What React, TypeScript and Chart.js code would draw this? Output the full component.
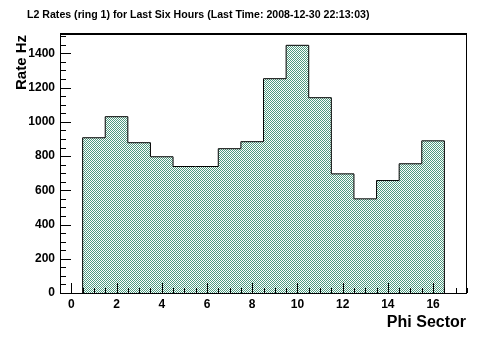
import React, { useEffect, useRef } from "react";
import { Chart, registerables } from "chart.js";

Chart.register(...registerables);

const chartTitle = "L2 Rates (ring 1) for Last Six Hours (Last Time: 2008-12-30 22:13:03)";
const xAxisTitle = "Phi Sector";
const yAxisTitle = "Rate Hz";

const phiSectors = [1, 2, 3, 4, 5, 6, 7, 8, 9, 10, 11, 12, 13, 14, 15, 16];
const rates = [907, 1030, 878, 796, 739, 739, 843, 884, 1252, 1447, 1141, 696, 550, 657, 755, 889];

const xMajorTicks = [0, 2, 4, 6, 8, 10, 12, 14, 16];
const xMinorTicks = [-0.5, 0, 0.5, 1, 1.5, 2, 2.5, 3, 3.5, 4, 4.5, 5, 5.5, 6, 6.5, 7, 7.5, 8, 8.5, 9, 9.5, 10, 10.5, 11, 11.5, 12, 12.5, 13, 13.5, 14, 14.5, 15, 15.5, 16, 16.5, 17, 17.5];
const yMajorTicks = [0, 200, 400, 600, 800, 1000, 1200, 1400];
const yMinorTicks = [0, 50, 100, 150, 200, 250, 300, 350, 400, 450, 500, 550, 600, 650, 700, 750, 800, 850, 900, 950, 1000, 1050, 1100, 1150, 1200, 1250, 1300, 1350, 1400, 1450, 1500];

const X_MIN = -0.5;
const X_MAX = 17.5;
const Y_MIN = 0;
const Y_MAX = 1519;

const FONT = "'Liberation Sans', Arial, Helvetica, sans-serif";

function makePattern(): CanvasPattern | string {
  const c = document.createElement("canvas");
  c.width = 2;
  c.height = 2;
  const g = c.getContext("2d");
  if (!g) return "#a8c8bc";
  g.fillStyle = "#ffffff";
  g.fillRect(0, 0, 2, 2);
  g.fillStyle = "#4f9a80";
  g.fillRect(0, 0, 1, 1);
  g.fillRect(1, 1, 1, 1);
  const p = g.createPattern(c, "repeat");
  return p || "#a8c8bc";
}

const rootStylePlugin = {
  id: "rootStyle",
  afterDatasetsDraw(chart: any) {
    const ctx: CanvasRenderingContext2D = chart.ctx;
    const { left, right, top, bottom } = chart.chartArea;
    const xs = chart.scales.x;
    const ys = chart.scales.y;
    ctx.save();
    ctx.strokeStyle = "#000";
    ctx.lineWidth = 1;
    // frame
    ctx.beginPath();
    ctx.moveTo(left + 0.5, bottom + 0.5);
    ctx.lineTo(left + 0.5, top);
    ctx.moveTo(right - 0.5, top);
    ctx.lineTo(right - 0.5, bottom + 0.5);
    ctx.moveTo(left, bottom + 0.5);
    ctx.lineTo(right, bottom + 0.5);
    ctx.stroke();
    ctx.lineWidth = 2;
    ctx.beginPath();
    ctx.moveTo(left, top + 1);
    ctx.lineTo(right, top + 1);
    ctx.stroke();
    // ticks
    ctx.lineWidth = 1;
    ctx.beginPath();
    xMinorTicks.forEach((v) => {
      const px = Math.round(xs.getPixelForValue(v)) + 0.5;
      const len = xMajorTicks.includes(v) ? 10 : 5;
      ctx.moveTo(px, bottom);
      ctx.lineTo(px, bottom - len);
    });
    yMinorTicks.forEach((v) => {
      const py = Math.round(ys.getPixelForValue(v)) + 0.5;
      const len = yMajorTicks.includes(v) ? 11 : 6;
      ctx.moveTo(left, py);
      ctx.lineTo(left + len, py);
    });
    ctx.stroke();
    // texts
    ctx.fillStyle = "#000";
    ctx.font = `bold 10.6px ${FONT}`;
    ctx.textAlign = "left";
    ctx.textBaseline = "alphabetic";
    ctx.fillText(chartTitle, 27, 17.5);
    ctx.font = `bold 16px ${FONT}`;
    ctx.textAlign = "right";
    ctx.fillText(xAxisTitle, right - 1, 327);
    ctx.save();
    ctx.translate(26, top + 2);
    ctx.rotate(-Math.PI / 2);
    ctx.textAlign = "right";
    ctx.font = `bold 15px ${FONT}`;
    ctx.fillText(yAxisTitle, 0, 0);
    ctx.restore();
    ctx.restore();
  },
};

export default function App() {
  const canvasRef = useRef<HTMLCanvasElement | null>(null);

  useEffect(() => {
    document.body.style.margin = "0";
    const canvas = canvasRef.current;
    if (!canvas) return;
    const histPoints: { x: number; y: number }[] = [{ x: phiSectors[0] - 0.5, y: 0 }];
    phiSectors.forEach((s, i) => histPoints.push({ x: s - 0.5, y: rates[i] }));
    histPoints.push({ x: phiSectors[phiSectors.length - 1] + 0.5, y: 0 });

    const chart = new Chart(canvas, {
      type: "line",
      data: {
        datasets: [
          {
            data: histPoints,
            stepped: "before",
            borderColor: "#000",
            borderWidth: 1,
            backgroundColor: makePattern() as any,
            fill: "origin",
            pointRadius: 0,
            tension: 0,
          } as any,
        ],
      },
      options: {
        responsive: false,
        animation: false,
        devicePixelRatio: 1,
        layout: { padding: { left: 0, right: 25, top: 33, bottom: 0 } },
        plugins: { legend: { display: false }, title: { display: false }, tooltip: { enabled: false } },
        scales: {
          x: {
            type: "linear",
            min: X_MIN,
            max: X_MAX,
            grid: { display: false, drawTicks: false },
            border: { display: false },
            afterBuildTicks: (scale: any) => {
              scale.ticks = xMajorTicks.map((value) => ({ value }));
            },
            afterFit: (scale: any) => {
              scale.height = 51;
            },
            ticks: {
              padding: 4,
              maxRotation: 0,
              autoSkip: false,
              color: "#000",
              callback: (v: any) => String(v),
              font: { family: FONT, size: 12, weight: "bold" },
            },
          },
          y: {
            type: "linear",
            min: Y_MIN,
            max: Y_MAX,
            grid: { display: false, drawTicks: false },
            border: { display: false },
            afterBuildTicks: (scale: any) => {
              scale.ticks = yMajorTicks.map((value) => ({ value }));
            },
            afterFit: (scale: any) => {
              scale.width = 60;
            },
            ticks: {
              padding: 5,
              autoSkip: false,
              color: "#000",
              callback: (v: any) => String(v),
              font: { family: FONT, size: 12, weight: "bold" },
            },
          },
        },
      },
      plugins: [rootStylePlugin],
    });
    return () => chart.destroy();
  }, []);

  return (
    <div style={{ position: "absolute", left: 0, top: 0, width: 492, height: 344, background: "#fff" }}>
      <canvas ref={canvasRef} width={492} height={344} style={{ display: "block" }} />
    </div>
  );
}
